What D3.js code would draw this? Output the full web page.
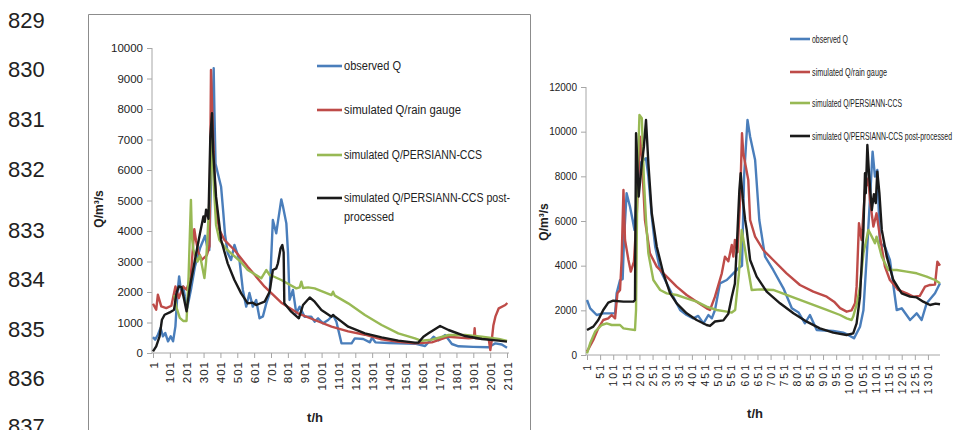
<!DOCTYPE html>
<html>
<head>
<meta charset="utf-8">
<script src="https://cdn.jsdelivr.net/npm/d3@7"></script>
<style>
  body { margin: 0; background: #fff; }
  svg { display: block; font-family: "Liberation Sans", Arial, sans-serif; }
  .axis path, .axis line { stroke: #a6a6a6; }
  .axis text { fill: #222; }
</style>
</head>
<body>
<svg id="chart" width="966" height="430"></svg>
<script>
// manuscript line numbers
const lineNumbers = ["829", "830", "831", "832", "833", "834", "835", "836", "837"];

const seriesNames = ["observed Q", "simulated Q/rain gauge", "simulated Q/PERSIANN-CCS", "simulated Q/PERSIANN-CCS post-processed"];
const seriesColors = ["#4a7ebb", "#be4b48", "#98b954", "#1a1a1a"];

// left event, [t (h), Q (m3/s)]
const leftObserved = [[1,520],[14,437],[30,600],[46,819],[60,546],[74,655],[90,382],[106,546],[120,382],[134,873],[146,1965],[156,2510],[166,2074],[180,2183],[190,1856],[204,1474],[226,2074],[250,2840],[280,3440],[310,3843],[326,3384],[335,3377],[361,9334],[365,8000],[372,6200],[385,5900],[405,5450],[418,4600],[428,3900],[444,3280],[464,3049],[484,3541],[514,3049],[534,2066],[554,1520],[573,1967],[593,1520],[613,1738],[633,1137],[653,1200],[673,1628],[693,1956],[712,4360],[732,3924],[742,4300],[762,5038],[772,4800],[792,4250],[802,3268],[811,1738],[831,2066],[851,1300],[871,1520],[900,1190],[940,1190],[960,1027],[980,1137],[1010,973],[1040,1082],[1069,1246],[1089,1027],[1119,317],[1160,317],[1179,317],[1198,481],[1248,459],[1288,350],[1300,500],[1320,350],[1400,330],[1555,305],[1615,230],[1665,530],[1695,420],[1734,590],[1774,295],[1813,220],[1900,200],[1992,187],[2032,317],[2070,280],[2101,175]];
const leftRainGauge = [[1,1616],[20,1420],[30,1910],[50,1530],[80,1474],[110,1550],[134,2183],[154,1800],[180,2180],[200,2074],[225,2500],[246,4060],[256,3700],[270,3300],[290,3056],[320,3200],[336,3500],[345,9279],[352,8000],[365,5890],[380,4500],[395,4033],[425,3705],[484,3377],[563,2830],[663,2174],[762,1650],[861,1300],[960,1082],[1060,863],[1159,710],[1258,600],[1357,449],[1456,370],[1555,317],[1655,350],[1754,535],[1873,480],[1905,500],[1909,810],[1913,480],[1992,470],[2002,98],[2010,400],[2020,900],[2032,1191],[2052,1465],[2091,1574],[2103,1640]];
const leftPersiann = [[128,1900],[140,1500],[160,1150],[180,1050],[200,1050],[212,2500],[226,5020],[232,3800],[240,3400],[265,3000],[280,3200],[306,2456],[316,3000],[326,4000],[340,5500],[352,7100],[362,5500],[375,4200],[395,3705],[430,3450],[464,3268],[520,3000],[563,2720],[600,2600],[643,2448],[673,2720],[693,2557],[720,2500],[762,2393],[851,2120],[871,2150],[881,2339],[891,2130],[921,2150],[960,2120],[1060,1900],[1069,2010],[1080,1880],[1159,1628],[1258,1246],[1357,918],[1456,645],[1555,480],[1595,400],[1655,440],[1754,590],[1853,590],[1952,535],[2052,459],[2101,400]];
const leftPostProcessed = [[1,55],[20,218],[40,546],[54,1090],[70,1255],[100,1330],[126,1420],[140,1965],[154,2183],[170,2160],[186,1747],[200,1365],[220,2183],[250,3057],[280,3930],[300,4476],[308,4300],[316,4700],[330,4400],[341,7090],[351,7860],[358,6600],[375,5125],[405,3705],[444,2940],[484,2393],[524,1956],[563,1628],[593,1650],[613,1574],[663,1683],[693,2010],[712,2720],[732,2775],[742,2940],[758,3432],[768,3541],[776,3300],[780,1628],[821,1355],[866,1137],[891,1574],[931,1820],[960,1683],[1000,1410],[1060,1191],[1069,1246],[1079,1200],[1159,863],[1258,645],[1357,513],[1456,404],[1555,339],[1575,340],[1605,535],[1635,644],[1704,885],[1754,754],[1853,557],[1952,459],[2052,404],[2101,372]];

// right event
const rightObserved = [[1,2463],[13,2090],[38,1791],[63,1865],[101,1866],[108,1866],[114,2760],[127,3358],[137,3400],[142,5150],[152,7240],[165,6640],[175,6045],[182,5600],[190,7000],[203,8584],[216,8730],[226,8808],[235,7990],[248,6194],[261,4850],[280,3806],[305,3210],[330,2612],[356,2015],[381,1791],[406,1643],[425,1750],[445,1418],[464,1791],[477,1643],[489,2015],[508,3210],[534,3358],[559,3658],[578,3882],[592,4000],[600,8000],[613,10523],[623,9776],[642,8732],[658,6045],[680,4403],[711,3806],[750,2985],[782,2090],[808,1900],[832,1418],[851,1791],[877,1120],[940,1075],[978,1000],[997,900],[1019,746],[1042,1268],[1055,2000],[1067,4300],[1080,7000],[1090,9105],[1099,7990],[1108,8284],[1118,5000],[1137,4850],[1156,4254],[1182,2015],[1201,2090],[1233,1567],[1258,1866],[1277,1567],[1296,2314],[1328,2762],[1347,3210]];
const rightRainGauge = [[1,150],[25,672],[44,1194],[63,1567],[82,1643],[95,1791],[108,1643],[117,2762],[127,2911],[133,4254],[140,7389],[146,5150],[159,4254],[168,3732],[180,4180],[191,6344],[203,9776],[210,8880],[222,6045],[241,4552],[267,3956],[305,3508],[343,3060],[381,2687],[419,2388],[457,2090],[470,2015],[489,2612],[515,3658],[527,4403],[540,4200],[553,4925],[559,4403],[565,5150],[575,4600],[585,7000],[592,9927],[597,9030],[616,7836],[623,6045],[642,5300],[673,4702],[711,4254],[762,3658],[813,3135],[864,2836],[915,2612],[943,2388],[966,2100],[991,1940],[1010,2000],[1023,2314],[1029,3060],[1038,5897],[1048,5150],[1061,7389],[1074,7912],[1080,6940],[1093,5750],[1105,6344],[1118,5300],[1137,3956],[1156,3358],[1188,2911],[1220,2762],[1245,2612],[1270,2650],[1290,3060],[1309,3135],[1328,3150],[1337,4180],[1347,4000]];
const rightPersiann = [[1,75],[13,522],[32,1045],[57,1343],[76,1418],[95,1343],[127,1343],[140,1194],[165,1150],[184,1120],[188,2015],[193,7836],[201,10747],[210,10600],[218,7836],[226,6045],[235,4552],[254,3358],[280,2911],[305,2762],[343,2687],[381,2538],[419,2388],[457,2165],[496,2015],[534,1940],[553,1900],[566,2015],[572,2700],[580,3600],[591,5600],[604,4702],[616,3806],[629,2911],[661,2940],[711,2911],[762,2687],[813,2463],[864,2239],[915,2015],[966,1791],[991,1640],[1010,1567],[1016,1720],[1030,2300],[1042,3060],[1055,4552],[1074,5600],[1087,5300],[1099,5000],[1105,5300],[1125,4403],[1150,3806],[1182,3806],[1220,3732],[1258,3658],[1296,3508],[1328,3358],[1347,3210]];
const rightPostProcessed = [[1,1120],[25,1270],[44,1567],[63,2015],[82,2343],[101,2430],[140,2390],[178,2390],[184,2463],[188,9926],[193,8584],[198,7090],[210,8580],[218,9330],[226,10523],[235,8584],[248,6345],[267,4850],[292,3658],[318,2762],[343,2314],[381,1866],[419,1567],[457,1343],[470,1300],[489,1500],[521,1550],[540,1850],[553,2600],[565,3200],[574,5300],[582,7389],[587,8136],[595,7000],[604,6045],[610,5600],[623,4254],[648,3508],[686,2836],[737,2314],[788,1866],[839,1493],[889,1194],[940,1000],[991,896],[1016,970],[1029,1418],[1042,2612],[1055,5600],[1061,8136],[1064,7240],[1070,9403],[1077,7990],[1087,6493],[1095,7200],[1102,6800],[1108,8210],[1116,7240],[1125,5600],[1144,4403],[1169,3358],[1201,2762],[1233,2612],[1258,2580],[1283,2388],[1309,2239],[1330,2300],[1347,2270]];

const leftXTicks = d3.range(1, 2102, 100);
const rightXTicks = d3.range(1, 1302, 50);
const leftYTicks = d3.range(0, 10001, 1000);
const rightYTicks = d3.range(0, 12001, 2000);

const svg = d3.select("#chart");

// line numbers down the margin
const lineNumberY = [28, 77, 127, 177, 238, 287, 337, 386, 434];
svg.selectAll(".lineno")
  .data(lineNumbers)
  .enter().append("text")
  .attr("class", "lineno")
  .attr("x", 8)
  .attr("y", (d, i) => lineNumberY[i])
  .attr("font-size", 22)
  .attr("fill", "#222")
  .text(d => d);

// panel frames
svg.append("path")
  .attr("d", "M88.5,432 V14.5 H530.5 V432")
  .attr("fill", "none")
  .attr("stroke", "#8c8c8c");

const drawChart = (cfg) => {
  const x = d3.scaleLinear().domain(cfg.xDomain).range(cfg.xRange);
  const y = d3.scaleLinear().domain(cfg.yDomain).range(cfg.yRange);
  const g = svg.append("g");

  const yAxis = d3.axisLeft(y).tickValues(cfg.yTicks).tickFormat(d3.format("d")).tickSize(5).tickPadding(4);
  g.append("g")
    .attr("class", "axis")
    .attr("transform", `translate(${cfg.xRange[0] - 1},0)`)
    .call(yAxis)
    .call(a => a.select(".domain").attr("d", `M0,${cfg.yRange[0]}V${cfg.yRange[1]}`))
    .selectAll("text")
    .attr("font-size", cfg.yFont);

  const xAxis = d3.axisBottom(x).tickValues(cfg.xTicks).tickFormat(d3.format("d")).tickSize(5).tickSizeOuter(0);
  const xg = g.append("g")
    .attr("class", "axis")
    .attr("transform", `translate(0,${cfg.yRange[0]})`)
    .call(xAxis);
  xg.select(".domain").attr("d", `M${cfg.xRange[0] - 1},0H${cfg.xAxisEnd}`);
  xg.selectAll("text")
    .attr("font-size", cfg.xFont)
    .attr("letter-spacing", cfg.xSpacing)
    .attr("transform", "rotate(-90)")
    .attr("text-anchor", "end")
    .attr("x", -8)
    .attr("y", 0)
    .attr("dy", "0.35em");

  const line = d3.line().x(d => x(d[0])).y(d => y(d[1]));
  g.selectAll(".series")
    .data(cfg.series)
    .enter().append("path")
    .attr("class", "series")
    .attr("d", line)
    .attr("fill", "none")
    .attr("stroke", (d, i) => seriesColors[i])
    .attr("stroke-width", 2.4)
    .attr("stroke-linejoin", "round");

  // legend
  const lg = g.append("g");
  seriesNames.forEach((name, i) => {
    const ly = cfg.legend.y[i];
    lg.append("line")
      .attr("x1", cfg.legend.x).attr("x2", cfg.legend.x + cfg.legend.len)
      .attr("y1", ly).attr("y2", ly)
      .attr("stroke", seriesColors[i]).attr("stroke-width", 2.6);
    const lines = cfg.legend.wrap[i] || [name];
    lines.forEach((txt, k) => {
      lg.append("text")
        .attr("x", cfg.legend.x + cfg.legend.len + 2)
        .attr("y", ly + k * cfg.legend.lineGap)
        .attr("dy", "0.35em")
        .attr("font-size", cfg.legend.font)
        .attr("fill", "#222")
        .attr("textLength", cfg.legend.widths[i][k])
        .attr("lengthAdjust", "spacingAndGlyphs")
        .text(txt);
    });
  });

  g.append("text")
    .attr("transform", `translate(${cfg.yLabel[0]},${cfg.yLabel[1]}) rotate(-90)`)
    .attr("text-anchor", "middle")
    .attr("font-weight", "bold")
    .attr("font-size", 12)
    .attr("fill", "#222")
    .text("Q/m³/s");

  g.append("text")
    .attr("x", cfg.xLabel[0]).attr("y", cfg.xLabel[1])
    .attr("text-anchor", "middle")
    .attr("font-weight", "bold")
    .attr("font-size", 13)
    .attr("fill", "#222")
    .text("t/h");
};

drawChart({
  series: [leftObserved, leftRainGauge, leftPersiann, leftPostProcessed],
  xDomain: [1, 2111], xRange: [153, 508.7], xAxisEnd: 509,
  yDomain: [0, 10000], yRange: [353, 48],
  xTicks: leftXTicks, yTicks: leftYTicks,
  xFont: 11.5, xSpacing: 1, yFont: 11.5,
  yLabel: [103, 209], xLabel: [315, 422],
  legend: {
    x: 317, len: 25, font: 12, lineGap: 19,
    y: [66, 110, 155, 198],
    wrap: [null, null, null, ["simulated Q/PERSIANN-CCS post-", "processed"]],
    widths: [[57], [117], [138], [166, 50]]
  }
});

drawChart({
  series: [rightObserved, rightRainGauge, rightPersiann, rightPostProcessed],
  xDomain: [1, 1347], xRange: [587, 940], xAxisEnd: 940,
  yDomain: [0, 12000], yRange: [355, 87],
  xTicks: rightXTicks, yTicks: rightYTicks,
  xFont: 10.5, xSpacing: 2, yFont: 10,
  yLabel: [548, 222], xLabel: [755, 418],
  legend: {
    x: 790, len: 20, font: 10.5, lineGap: 14,
    y: [39, 72, 103, 136],
    wrap: [],
    widths: [[36], [75], [90], [140]]
  }
});
</script>
</body>
</html>
